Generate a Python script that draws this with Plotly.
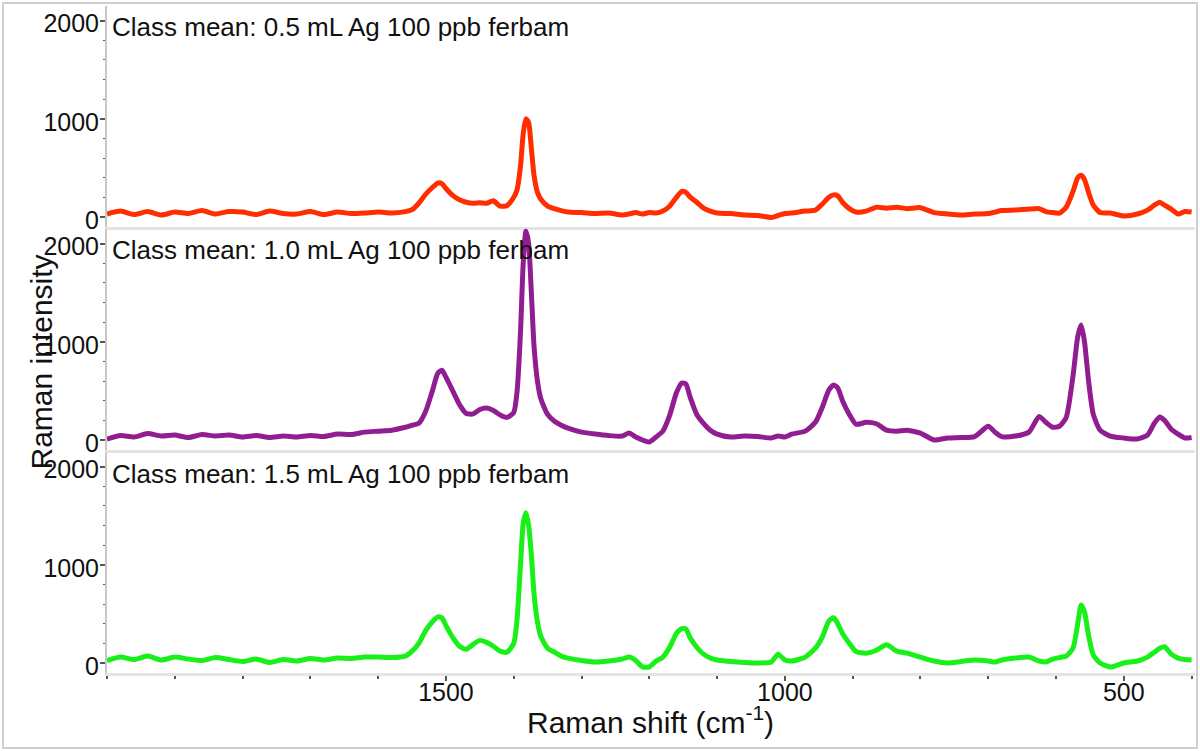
import plotly.graph_objects as go
from plotly.subplots import make_subplots

# Raman shift (cm-1), shared by all three class means
shift = [
    2000, 1980, 1960, 1940, 1920, 1900, 1880, 1860, 1840, 1820,
    1800, 1780, 1760, 1740, 1720, 1700, 1680, 1660, 1640, 1620,
    1600, 1580, 1560, 1550, 1540, 1530, 1520, 1512, 1506, 1500,
    1490, 1480, 1470, 1460, 1450, 1440, 1430, 1420, 1410, 1400,
    1395, 1390, 1386, 1382, 1378, 1374, 1370, 1365, 1360, 1350,
    1340, 1330, 1320, 1300, 1280, 1260, 1240, 1230, 1220, 1210,
    1200, 1190, 1180, 1170, 1160, 1152, 1146, 1140, 1130, 1120,
    1110, 1100, 1080, 1060, 1040, 1020, 1010, 1000, 990, 970,
    955, 945, 935, 928, 922, 915, 905, 895, 880, 865,
    850, 835, 820, 800, 780, 760, 740, 720, 700, 690,
    680, 660, 640, 625, 615, 605, 595, 585, 575, 568,
    563, 558, 552, 545, 535, 520, 500, 480, 465, 455,
    447, 440, 430, 420, 410, 400,
]

ag_05 = [
    30, 60, 25, 55, 20, 50, 35, 65, 30, 55,
    50, 25, 60, 35, 30, 55, 25, 50, 35, 40,
    50, 40, 55, 75, 140, 230, 300, 345, 340, 290,
    220, 175, 150, 140, 145, 140, 165, 110, 115, 200,
    280, 520, 850, 1000, 960, 700, 420, 250, 180, 110,
    85, 65, 50, 45, 35, 40, 20, 30, 45, 30,
    45, 40, 60, 110, 200, 260, 250, 205, 150, 90,
    60, 40, 35, 20, 15, -5, 15, 35, 40, 60,
    70, 130, 200, 225, 215, 150, 85, 50, 60, 100,
    90, 100, 85, 95, 45, 30, 20, 30, 35, 50,
    65, 70, 80, 85, 55, 45, 40, 100, 260, 400,
    425, 380, 250, 120, 45, 40, 10, 30, 70, 120,
    150, 120, 80, 30, 55, 50,
]

ag_10 = [
    10, 45, 30, 65, 40, 50, 25, 55, 40, 50,
    30, 45, 25, 40, 30, 45, 35, 60, 55, 80,
    90, 100, 130, 150, 170, 290, 500, 680, 710, 640,
    500, 360, 270, 265, 310, 325, 300, 255, 230, 280,
    500, 1100, 1800, 2130, 2000, 1500, 950, 600, 420, 260,
    190, 150, 120, 80, 60, 45, 40, 70, 30, 0,
    -20, 30, 90, 250, 480, 580, 570, 440, 260, 170,
    100, 60, 30, 40, 35, 20, 40, 30, 60, 90,
    180, 330, 510, 560, 530, 400, 260, 160, 180, 165,
    100, 90, 100, 70, 0, 20, 25, 35, 140, 80,
    35, 40, 80, 240, 180, 130, 140, 230, 650, 1050,
    1170, 1000, 600, 260, 100, 40, 20, 10, 50, 170,
    235, 200, 110, 60, 20, 25,
]

ag_15 = [
    25, 60, 35, 70, 30, 60, 40, 25, 55, 35,
    15, 40, 5, 35, 20, 45, 30, 50, 45, 60,
    60, 55, 70, 120, 200, 330, 420, 470, 460, 380,
    260, 170, 140, 190, 230, 210, 170, 120, 110, 200,
    450, 1000, 1420, 1530, 1400, 1100, 700, 420, 270, 150,
    110, 70, 50, 25, 10, 20, 40, 60, 25, -40,
    -40, 20, 60, 160, 300, 350, 345, 260, 160, 90,
    50, 30, 15, 5, 0, 10, 90, 30, 20, 60,
    150, 260, 430, 460, 400, 300, 200, 115, 100, 130,
    185, 120, 100, 60, 20, 0, 15, 30, 20, 10,
    30, 50, 60, 20, 10, 40, 55, 70, 150, 400,
    590, 520, 280, 80, 0, -40, 0, 20, 60, 110,
    150, 165, 90, 50, 35, 30,
]

labels = [
    "Class mean: 0.5 mL Ag 100 ppb ferbam",
    "Class mean: 1.0 mL Ag 100 ppb ferbam",
    "Class mean: 1.5 mL Ag 100 ppb ferbam",
]
series = [ag_05, ag_10, ag_15]
colors = ["rgb(255,45,0)", "rgb(145,30,145)", "rgb(25,240,25)"]

W, H = 1200, 751
FONT = "Liberation Sans, Arial, sans-serif"

fig = make_subplots(rows=3, cols=1, shared_xaxes=True, vertical_spacing=0.005)

for i, (ys, col) in enumerate(zip(series, colors)):
    fig.add_trace(go.Scatter(x=shift, y=ys, mode="lines", showlegend=False,
                             line=dict(color=col, width=5, shape="spline", smoothing=0.6)),
                  row=i + 1, col=1)

# panel placement in pixels (top, bottom)
panels = [(5.8, 226.8), (228.8, 449.8), (451.8, 672.8)]
text_y = [27, 250, 474]

for i, (top, bot) in enumerate(panels):
    n = "" if i == 0 else str(i + 1)
    fig.layout["yaxis" + n].update(
        domain=[1 - bot / H, 1 - top / H], range=[-100, 2150], automargin=False,
        tickvals=[0, 1000, 2000], ticks="outside", ticklen=5, tickwidth=1.5,
        tickcolor="#555", showline=True, linecolor="#c8c8c8", linewidth=2,
        showgrid=False, zeroline=False, ticklabelstandoff=-4, ticklabelshift=3,
        minor=dict(dtick=200, ticks="outside", ticklen=2, tickcolor="#555", tickwidth=1),
        tickfont=dict(family=FONT, size=25, color="#111"))
    fig.layout["xaxis" + n].update(
        domain=[107 / W, 1195 / W], range=[2000, 395], showgrid=False, zeroline=False,
        automargin=False, showline=True, linecolor="#e4e4e4", linewidth=3)
    fig.add_annotation(text=labels[i], xref="paper", yref="paper",
                       x=110 / W, y=1 - text_y[i] / H, xanchor="left", yanchor="middle",
                       showarrow=False, font=dict(family=FONT, size=26, color="#111"))

fig.update_xaxes(row=3, col=1, tickvals=[1500, 1000, 500], ticks="outside", ticklen=5,
                 tickcolor="#555", tickwidth=1.5, ticklabelstandoff=-10,
                 minor=dict(dtick=100, ticks="outside", ticklen=3, tickcolor="#555"),
                 tickfont=dict(family=FONT, size=25, color="#111"))

fig.add_annotation(text="Raman shift (cm<sup>-1</sup>)", xref="paper", yref="paper",
                   x=650 / W, y=1 - 720 / H, yanchor="middle", showarrow=False,
                   font=dict(family=FONT, size=30, color="#111"))
fig.add_annotation(text="Raman intensity", xref="paper", yref="paper", textangle=-90,
                   x=22 / W, y=1 - 362 / H, showarrow=False,
                   font=dict(family=FONT, size=30, color="#111"))

# light frame around the whole picture
fig.add_shape(type="rect", xref="paper", yref="paper", x0=3 / W, x1=1197 / W,
              y0=1 - 748 / H, y1=1 - 3 / H, line=dict(color="#cfcfcf", width=2))

fig.update_layout(width=W, height=H, margin=dict(l=0, r=0, t=0, b=0),
                  paper_bgcolor="white", plot_bgcolor="white",
                  font=dict(family=FONT))

# drop the page's default body margin so the figure sits at the window corner
fig.write_html("out.html", config={"displayModeBar": False},
               post_script="document.body.style.margin='0px';")
